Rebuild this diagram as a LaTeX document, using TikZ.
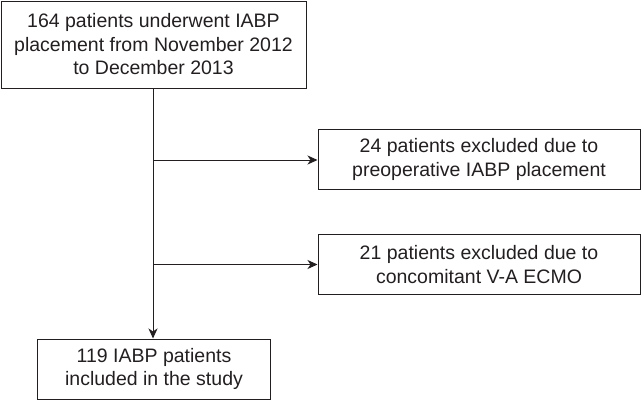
\documentclass[tikz,border=0pt]{standalone}
\usepackage{fontspec}
\setmainfont{Liberation Sans}
\usetikzlibrary{arrows.meta}
\definecolor{ink}{HTML}{231F20}
\begin{document}
\begin{tikzpicture}[x=1pt,y=-1pt,
  box/.style={draw=ink,line width=1pt,text=ink,align=center,inner sep=0pt,
    font=\fontsize{19.5}{23.5}\selectfont},
  arr/.style={draw=ink,line width=1pt,-{Stealth[length=10pt,width=9pt,inset=3pt]}}]
\useasboundingbox (0,0) rectangle (642,400);
\node[box,minimum width=305pt,minimum height=87pt] (top) at (153.5,44.5)
  {164 patients underwent IABP\\placement from November 2012\\to December 2013};
\node[box,minimum width=322pt,minimum height=60pt] (ex1) at (479,159.5)
  {24 patients excluded due to\\preoperative IABP placement};
\node[box,minimum width=322pt,minimum height=60pt] (ex2) at (479,264.5)
  {21 patients excluded due to\\concomitant V-A ECMO};
\node[box,minimum width=233pt,minimum height=60pt] (bot) at (154,369)
  {119 IABP patients\\included in the study};
\coordinate (j1) at (153,160);
\coordinate (j2) at (153,264.5);
\draw[arr] (top.south -| j1) -- (j1 |- bot.north);
\draw[arr] (j1) -- (ex1.west |- j1);
\draw[arr] (j2) -- (ex2.west |- j2);
\end{tikzpicture}
\end{document}
